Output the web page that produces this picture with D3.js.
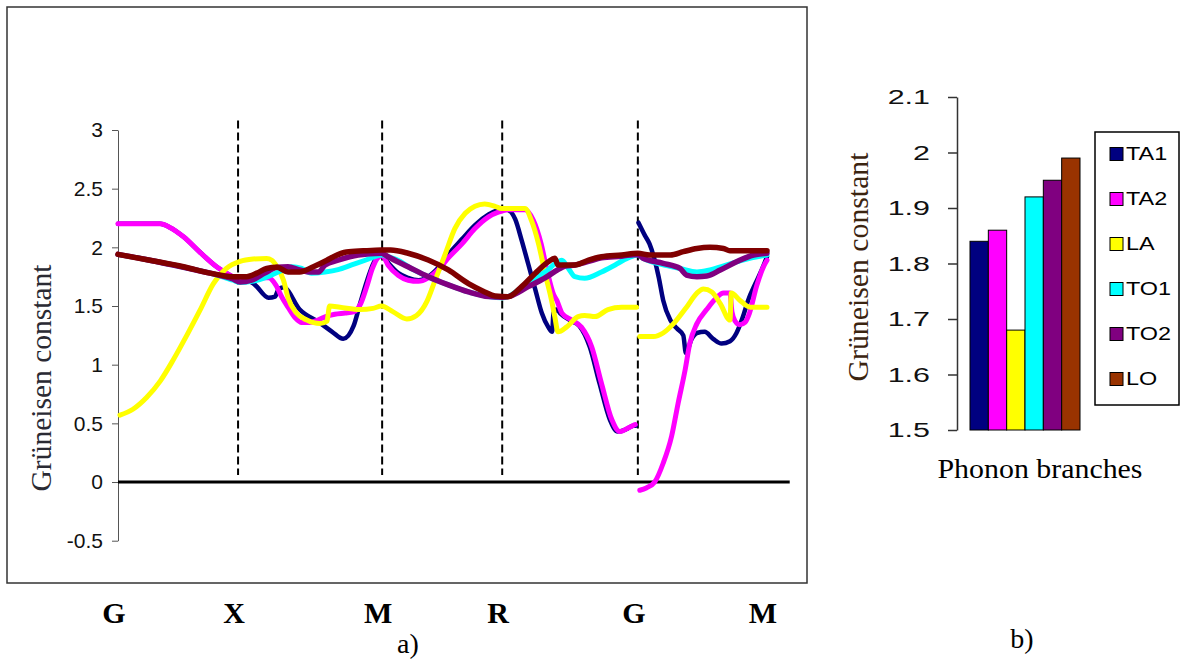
<!DOCTYPE html>
<html>
<head>
<meta charset="utf-8">
<script src="https://cdn.jsdelivr.net/npm/d3@7"></script>
<style>
  html, body { margin: 0; padding: 0; background: #fff; }
  svg { display: block; }
</style>
</head>
<body>
<svg id="fig" width="1180" height="666"></svg>
<script>
// High-symmetry points along the Brillouin-zone path (path coordinate 0..100)
const symLabels = ["G", "X", "M", "R", "G", "M"];
const symPos = [0, 18.5, 40.7, 59.2, 80.1, 100];

// Grüneisen constant along the path, [pathCoord, gamma]; null marks the break at G
const ta1 = [
  [0,2.20],[6.5,2.20],[8.0,2.17],[10.1,2.09],[12.6,1.96],[15.3,1.83],[17.7,1.75],[18.5,1.73],[20.0,1.72],[21.1,1.68],
  [23.2,1.57],[24.2,1.58],[24.7,1.64],[25.5,1.66],[28.0,1.47],[31.0,1.36],[33.0,1.28],[34.7,1.22],[36.3,1.33],[37.2,1.50],
  [38.4,1.72],[39.6,1.89],[40.7,1.93],
  [41.6,1.87],[43.2,1.78],[44.7,1.74],[46.3,1.72],[47.8,1.75],[49.4,1.83],[50.9,1.94],[53.0,2.07],[55.0,2.19],[57.1,2.28],
  [58.6,2.32],[59.2,2.33],
  [60.1,2.32],[61.2,2.24],[62.2,2.06],[63.2,1.86],[64.3,1.64],[65.3,1.44],[66.3,1.32],[66.9,1.28],[67.1,1.44],[67.6,1.47],
  [68.1,1.44],[69.6,1.38],[71.1,1.33],[72.7,1.15],[74.2,0.84],[75.8,0.53],[77.0,0.43],[78.3,0.45],[79.4,0.48],[79.8,0.48],
  [80.1,null],
  [80.2,2.21],[81.2,2.10],[81.9,2.03],[82.7,1.89],[83.3,1.75],[84.0,1.55],[85.1,1.38],[86.1,1.31],[87.1,1.25],[87.5,1.10],
  [88.4,1.22],[89.2,1.27],[90.4,1.28],[91.7,1.22],[93.0,1.18],[94.3,1.20],[95.3,1.27],[96.3,1.41],[97.1,1.55],[98.2,1.69],
  [99.2,1.81],[100,1.92]
];
const ta2 = [
  [0,2.20],[6.5,2.20],[8.0,2.17],[10.1,2.09],[12.6,1.96],[15.3,1.83],[17.7,1.75],[18.5,1.73],[20.5,1.72],[22.0,1.74],
  [23.2,1.74],[24.3,1.68],[25.3,1.57],[26.2,1.49],[27.3,1.40],[28.3,1.36],[29.5,1.36],[30.8,1.38],[32.0,1.41],[33.4,1.43],
  [35.0,1.44],[36.3,1.45],[37.4,1.52],[38.3,1.66],[39.2,1.82],[40.0,1.91],[40.7,1.93],
  [41.6,1.85],[43.2,1.76],[44.7,1.72],[46.3,1.71],[47.8,1.74],[49.4,1.81],[50.9,1.91],[53.0,2.03],[55.0,2.16],[57.1,2.26],
  [58.6,2.30],[59.2,2.31],
  [60.1,2.32],[62.7,2.32],[64.0,2.23],[65.2,2.03],[66.2,1.78],[67.1,1.60],[67.6,1.55],[68.4,1.44],[69.9,1.38],[71.4,1.32],
  [73.0,1.15],[74.5,0.84],[76.1,0.53],[77.3,0.43],[78.6,0.46],[79.7,0.49],
  [80.1,null],
  [80.4,-0.07],[81.4,-0.05],[82.7,0.00],[84.0,0.16],[85.3,0.39],[86.3,0.67],[87.4,0.96],[88.1,1.18],[89.2,1.35],[90.7,1.47],
  [92.2,1.57],[93.3,1.61],[94.3,1.61],[94.6,1.45],[95.1,1.37],[95.8,1.34],[96.6,1.36],[97.3,1.44],[98.4,1.67],[99.5,1.84],
  [100,1.89]
];
const la = [
  [0.3,0.57],[2.3,0.62],[4.4,0.72],[6.5,0.86],[8.5,1.04],[10.6,1.25],[12.6,1.46],[14.7,1.69],[16.7,1.82],
  [18.8,1.88],[20.8,1.90],[22.9,1.905],[23.7,1.89],[24.5,1.835],[25.5,1.72],[26.2,1.57],[27.5,1.44],[29.1,1.38],[31.1,1.35],
  [32.2,1.37],[32.6,1.50],[34.2,1.49],[37.3,1.47],[39.3,1.48],[40.6,1.50],[42.4,1.45],[44.5,1.39],[46.0,1.42],[47.6,1.54],
  [48.8,1.71],[50.4,1.94],[51.9,2.16],[53.5,2.29],[55.0,2.35],[56.5,2.37],[58.1,2.35],[59.1,2.33],[61.2,2.33],[62.7,2.33],
  [63.7,2.23],[64.8,2.03],[65.8,1.78],[66.8,1.55],[67.3,1.41],[67.8,1.28],[69.1,1.32],[70.9,1.41],[71.9,1.42],[73.5,1.41],
  [75.5,1.47],[77.6,1.49],[79.9,1.49],
  [80.1,null],
  [80.4,1.24],[82.5,1.24],[84.0,1.27],[85.6,1.35],[87.6,1.49],[89.2,1.61],[90.2,1.645],[91.5,1.62],[92.8,1.52],[94.3,1.38],
  [94.5,1.61],[95.8,1.55],[97.4,1.49],[100,1.49]
];
const to1 = [
  [0,1.94],[4.9,1.89],[10.1,1.83],[14.2,1.78],[17.7,1.72],[18.8,1.70],[20.6,1.71],[22.6,1.74],[24.7,1.79],[26.8,1.835],
  [28.3,1.82],[29.8,1.78],[31.9,1.79],[33.9,1.81],[36.0,1.85],[38.1,1.89],[40.1,1.93],[40.7,1.935],
  [41.6,1.92],[43.5,1.88],[44.7,1.835],[47.8,1.75],[50.9,1.68],[54.0,1.62],[57.1,1.58],[59.2,1.57],
  [60.1,1.58],[62.2,1.66],[64.3,1.74],[66.3,1.81],[67.3,1.86],[68.4,1.89],[69.4,1.82],[70.4,1.75],[71.9,1.736],[74.5,1.79],
  [76.6,1.85],[78.6,1.91],[80.1,1.935],
  [80.9,1.907],[84.0,1.85],[86.6,1.82],[89.2,1.79],[91.2,1.807],[93.8,1.85],[96.3,1.892],[100,1.935]
];
const to2 = [
  [0,1.94],[4.9,1.89],[10.1,1.83],[14.2,1.78],[17.7,1.73],[18.8,1.705],[20.6,1.72],[22.6,1.78],[24.5,1.83],[26.2,1.835],
  [27.8,1.81],[29.8,1.79],[30.9,1.79],[31.9,1.85],[33.9,1.89],[37.0,1.935],[40.6,1.95],
  [41.6,1.92],[44.7,1.835],[47.8,1.75],[50.9,1.68],[54.0,1.62],[57.1,1.58],[59.2,1.575],
  [60.1,1.58],[63.2,1.665],[65.8,1.74],[67.8,1.81],[68.9,1.84],[70.4,1.85],[72.5,1.88],[74.5,1.91],[77.6,1.925],[80.1,1.94],
  [80.9,1.907],[84.0,1.864],[86.6,1.82],[87.6,1.764],[89.2,1.75],[90.7,1.756],[92.8,1.807],[95.3,1.877],[97.9,1.935],[100,1.95]
];
const lo = [
  [0,1.94],[4.9,1.89],[10.1,1.835],[14.2,1.78],[17.7,1.75],[19.8,1.75],[21.4,1.78],[22.9,1.82],[24.5,1.83],[26.2,1.79],
  [28.0,1.79],[30.1,1.835],[32.2,1.89],[33.2,1.92],[35.2,1.96],[37.8,1.97],[40.6,1.977],
  [42.0,1.977],[44.7,1.95],[47.8,1.892],[50.9,1.807],[54.0,1.69],[56.5,1.62],[58.1,1.585],[60.1,1.58],
  [62.2,1.665],[64.3,1.78],[66.3,1.877],[67.3,1.907],[67.8,1.85],[70.4,1.85],[72.5,1.892],[74.5,1.92],[77.6,1.935],[80.1,1.95],
  [81.9,1.935],[85.1,1.935],[87.1,1.963],[89.2,1.99],[91.2,2.0],[93.3,1.99],[94.3,1.97],[96.9,1.97],[100,1.97]
];

const branchNames = ["TA1", "TA2", "LA", "TO1", "TO2", "LO"];
const lineColors = ["#000080", "#ff00ff", "#ffff00", "#00ffff", "#800080", "#800000"];
const barColors = ["#000080", "#ff00ff", "#ffff00", "#00ffff", "#800080", "#993300"];
// Average Grüneisen constant of each phonon branch
const avgGamma = [1.84, 1.86, 1.68, 1.92, 1.95, 1.99];

const leftTicks = [-0.5, 0, 0.5, 1, 1.5, 2, 2.5, 3];
const rightTicks = [1.5, 1.6, 1.7, 1.8, 1.9, 2.0, 2.1];

const svg = d3.select("#fig");
svg.append("rect").attr("width", 1180).attr("height", 666).attr("fill", "#fff");

// ---------- panel a) dispersion of the Grüneisen constant ----------
const x = d3.scaleLinear().domain([0, 100]).range([118, 767]);
const y = d3.scaleLinear().domain([-0.5, 3]).range([540.7, 130]);

svg.append("rect")
  .attr("x", 7).attr("y", 7).attr("width", 800).attr("height", 576)
  .attr("fill", "none").attr("stroke", "#333").attr("stroke-width", 1.5);

const yAxisA = svg.append("g")
  .attr("transform", `translate(${x(0)},0)`)
  .call(d3.axisLeft(y).tickValues(leftTicks).tickSize(6).tickPadding(9)
        .tickSizeOuter(0).tickFormat(d => String(d)));
yAxisA.select(".domain").attr("stroke", "#555");
yAxisA.selectAll(".tick line").attr("stroke", "#555");
yAxisA.selectAll("text")
  .attr("font-family", "Arial, 'Liberation Sans', sans-serif")
  .attr("font-size", 21).attr("fill", "#111");

// zero reference line
svg.append("line")
  .attr("x1", x(0)).attr("x2", x(103.5))
  .attr("y1", y(0)).attr("y2", y(0))
  .attr("stroke", "#000").attr("stroke-width", 3);

// dashed separators at the interior high-symmetry points
svg.append("g").selectAll("line")
  .data(symPos.slice(1, -1))
  .join("line")
  .attr("x1", d => x(d)).attr("x2", d => x(d))
  .attr("y1", y(3.08)).attr("y2", y(0.06))
  .attr("stroke", "#000").attr("stroke-width", 2)
  .attr("stroke-dasharray", "8,4");

const line = d3.line()
  .defined(d => d[1] !== null)
  .x(d => x(d[0]))
  .y(d => y(d[1]))
  .curve(d3.curveMonotoneX);

const seriesData = [ta1, ta2, la, to1, to2, lo];
const widths = [4.5, 5, 5, 5, 5.5, 5.5];
svg.append("g").selectAll("path")
  .data(seriesData)
  .join("path")
  .attr("d", line)
  .attr("fill", "none")
  .attr("stroke", (d, i) => lineColors[i])
  .attr("stroke-width", (d, i) => widths[i])
  .attr("stroke-linejoin", "round")
  .attr("stroke-linecap", "round");

// path labels below the frame
svg.append("g").selectAll("text")
  .data(symLabels)
  .join("text")
  .attr("x", (d, i) => x(symPos[i]) - 4)
  .attr("y", 623)
  .attr("text-anchor", "middle")
  .attr("font-family", "'Times New Roman', 'Liberation Serif', serif")
  .attr("font-weight", "bold")
  .attr("font-size", 30)
  .text(d => d);

svg.append("text")
  .attr("transform", "translate(51,378) rotate(-90)")
  .attr("text-anchor", "middle")
  .attr("font-family", "'Times New Roman', 'Liberation Serif', serif")
  .attr("font-size", 29)
  .attr("fill", "#2a2a33")
  .attr("textLength", 227).attr("lengthAdjust", "spacingAndGlyphs")
  .text("Grüneisen constant");

svg.append("text")
  .attr("x", 408).attr("y", 653)
  .attr("text-anchor", "middle")
  .attr("font-family", "'Times New Roman', 'Liberation Serif', serif")
  .attr("font-size", 28)
  .text("a)");

// ---------- panel b) branch-averaged Grüneisen constant ----------
const xb = d3.scaleBand().domain(branchNames).range([970, 1080]).padding(0);
const yb = d3.scaleLinear().domain([1.5, 2.1]).range([430, 97]);

const yAxisB = svg.append("g")
  .attr("transform", "translate(957,0)")
  .call(d3.axisLeft(yb).tickValues(rightTicks).tickSize(9).tickSizeOuter(0)
        .tickFormat(d => String(+d.toFixed(1))));
yAxisB.select(".domain").attr("stroke", "#333").attr("stroke-width", 1.5);
yAxisB.selectAll(".tick line").attr("stroke", "#333").attr("stroke-width", 1.5);
yAxisB.selectAll("text")
  .attr("font-family", "Arial, 'Liberation Sans', sans-serif")
  .attr("font-size", 21).attr("fill", "#111")
  .attr("x", -27 / 1.45)
  .attr("transform", "scale(1.45,1)");

svg.append("g").selectAll("rect")
  .data(avgGamma)
  .join("rect")
  .attr("x", (d, i) => xb(branchNames[i]))
  .attr("width", xb.bandwidth())
  .attr("y", d => yb(d))
  .attr("height", d => yb(1.5) - yb(d))
  .attr("fill", (d, i) => barColors[i])
  .attr("stroke", "#000").attr("stroke-width", 1);

svg.append("text")
  .attr("transform", "translate(868,267) rotate(-90)")
  .attr("text-anchor", "middle")
  .attr("font-family", "'Times New Roman', 'Liberation Serif', serif")
  .attr("font-size", 29)
  .attr("fill", "#3b2410")
  .attr("textLength", 229).attr("lengthAdjust", "spacingAndGlyphs")
  .text("Grüneisen constant");

svg.append("text")
  .attr("x", 1040).attr("y", 478)
  .attr("text-anchor", "middle")
  .attr("font-family", "'Times New Roman', 'Liberation Serif', serif")
  .attr("font-size", 28)
  .attr("textLength", 205).attr("lengthAdjust", "spacingAndGlyphs")
  .text("Phonon branches");

// legend
svg.append("rect")
  .attr("x", 1095).attr("y", 132).attr("width", 84).attr("height", 273)
  .attr("fill", "#fff").attr("stroke", "#000").attr("stroke-width", 1.5);
const legRows = svg.append("g").selectAll("g")
  .data(branchNames)
  .join("g")
  .attr("transform", (d, i) => `translate(1110,${154 + i * 45})`);
legRows.append("rect")
  .attr("x", 0).attr("y", -6.5).attr("width", 13).attr("height", 13)
  .attr("fill", (d, i) => barColors[i])
  .attr("stroke", "#000").attr("stroke-width", 1);
legRows.append("text")
  .attr("x", 16 / 1.3).attr("y", 0).attr("dy", "0.36em")
  .attr("transform", "scale(1.3,1)")
  .attr("font-family", "Arial, 'Liberation Sans', sans-serif")
  .attr("font-size", 18)
  .text(d => d);

svg.append("text")
  .attr("x", 1022).attr("y", 648)
  .attr("text-anchor", "middle")
  .attr("font-family", "'Times New Roman', 'Liberation Serif', serif")
  .attr("font-size", 28)
  .text("b)");
</script>
</body>
</html>
